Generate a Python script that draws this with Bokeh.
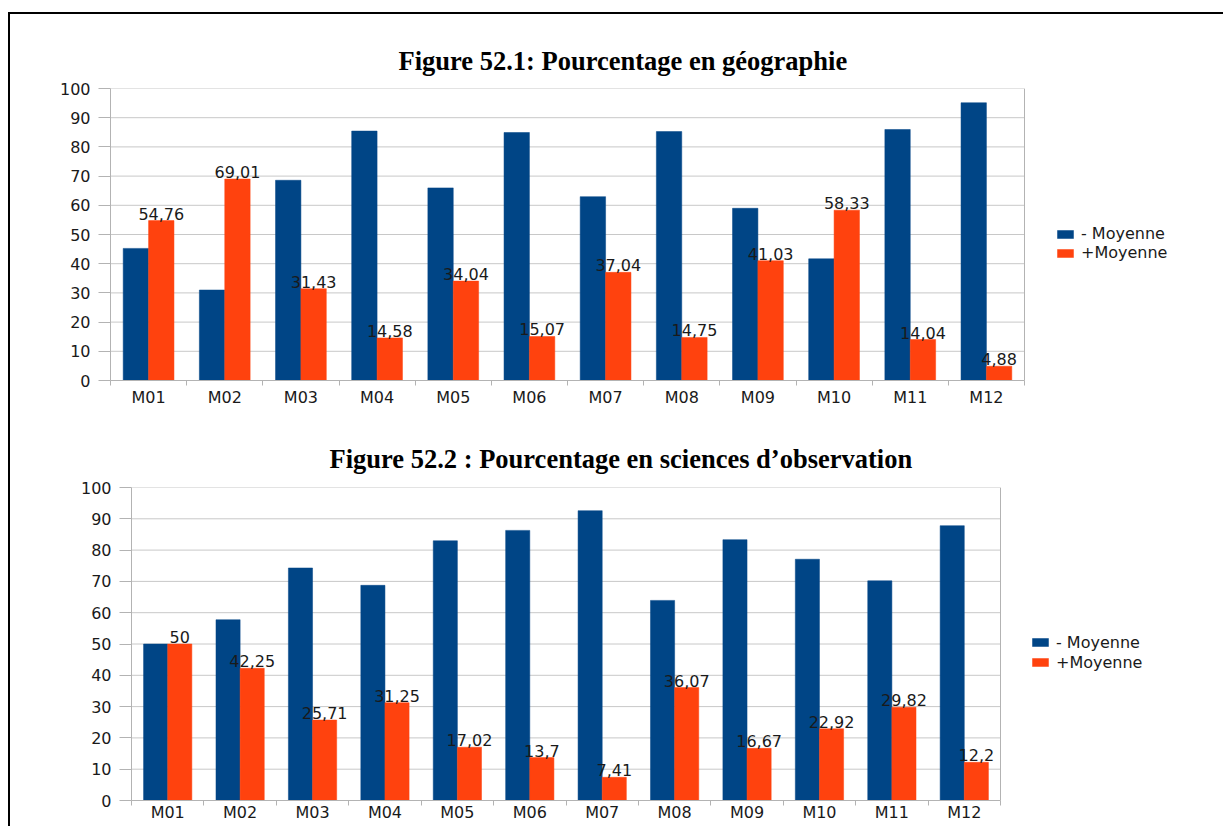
import numpy as np
from bokeh.plotting import figure
from bokeh.models import FixedTicker, Range1d, Legend, LegendItem, ColumnDataSource, Span
from bokeh.embed import file_html
from bokeh.resources import INLINE
from bokeh.core.properties import value

categories = ["M01", "M02", "M03", "M04", "M05", "M06", "M07", "M08", "M09", "M10", "M11", "M12"]
series_names = ["- Moyenne", "+Moyenne"]
geo_minus = [45.24, 30.99, 68.57, 85.42, 65.96, 84.93, 62.96, 85.25, 58.97, 41.67, 85.96, 95.12]
geo_plus = [54.76, 69.01, 31.43, 14.58, 34.04, 15.07, 37.04, 14.75, 41.03, 58.33, 14.04, 4.88]
sci_minus = [50, 57.75, 74.29, 68.75, 82.98, 86.3, 92.59, 63.93, 83.33, 77.08, 70.18, 87.8]
sci_plus = [50, 42.25, 25.71, 31.25, 17.02, 13.7, 7.41, 36.07, 16.67, 22.92, 29.82, 12.2]
yticks = list(range(0, 101, 10))
title1 = "Figure 52.1: Pourcentage en géographie"
title2 = "Figure 52.2 : Pourcentage en sciences d\u2019observation"

BLUE = "#004586"
ORANGE = "#ff420e"
GRID = "#c8c8c8"
AXIS = "#b3b3b3"
FONT = "DejaVu Sans"


def fmt(v):
    return f"{v:g}".replace(".", ",")


def make_chart(title, minus, plus, width, height, mb_left, chart_w, mb_top, mb_bottom,
               title_offset, title_standoff, leg_loc, leg_row, x_standoff):
    n = len(categories)
    frame_w = width - mb_left
    centers = np.arange(n) + 0.5
    src = ColumnDataSource(dict(
        x_minus=centers - 1 / 6, x_plus=centers + 1 / 6,
        minus=minus, plus=plus, lbl=[fmt(v) for v in plus]))
    p = figure(width=width, height=height, x_range=Range1d(0, n * frame_w / chart_w),
               y_range=Range1d(0, 100),
               output_backend="svg", toolbar_location=None, title=title,
               min_border_left=mb_left, min_border_right=0,
               min_border_top=mb_top, min_border_bottom=mb_bottom)
    p.title.align = "left"
    p.title.offset = title_offset
    p.title.standoff = title_standoff
    p.title.text_font = "Liberation Serif"
    p.title.text_font_size = "26.5px"
    p.title.text_font_style = "bold"
    p.title.text_color = "#000000"

    p.xgrid.grid_line_color = None
    p.ygrid.grid_line_color = None
    p.outline_line_color = None
    # horizontal grid lines limited to the category area
    p.segment(x0=[0] * len(yticks), x1=[n] * len(yticks), y0=yticks, y1=yticks,
              line_color=GRID, line_width=1, level="underlay")
    p.add_layout(Span(location=n, dimension="height", line_color=AXIS, line_width=1))

    r1 = p.vbar(x="x_minus", top="minus", width=1 / 3, source=src,
                fill_color=BLUE, line_color=BLUE, line_width=0.5)
    r2 = p.vbar(x="x_plus", top="plus", width=1 / 3, source=src,
                fill_color=ORANGE, line_color=ORANGE, line_width=0.5)
    p.text(x="x_plus", y="plus", text="lbl", source=src, text_align="center",
           text_baseline="alphabetic", y_offset=-7, text_font=value(FONT),
           text_font_size="16px", text_color="#1a1a1a")

    # axes
    p.xaxis.bounds = (0, n)
    p.xaxis.ticker = FixedTicker(ticks=list(centers), minor_ticks=list(np.arange(n + 1)))
    p.xaxis.major_label_overrides = {float(c): lab for c, lab in zip(centers, categories)}
    p.xaxis.major_tick_out = 0
    p.xaxis.major_tick_in = 0
    p.xaxis.minor_tick_out = 5
    p.xaxis.minor_tick_in = 0
    p.xaxis.minor_tick_line_color = AXIS
    p.xaxis.axis_line_color = AXIS
    p.xaxis.major_label_standoff = x_standoff
    p.xaxis.major_label_text_font = FONT
    p.xaxis.major_label_text_font_size = "16px"
    p.xaxis.major_label_text_color = "#1a1a1a"

    p.yaxis.ticker = FixedTicker(ticks=yticks)
    p.yaxis.major_tick_out = 12
    p.yaxis.major_tick_in = 0
    p.yaxis.minor_tick_line_color = None
    p.yaxis.major_tick_line_color = AXIS
    p.yaxis.axis_line_color = AXIS
    p.yaxis.major_label_standoff = 8
    p.yaxis.major_label_text_font = FONT
    p.yaxis.major_label_text_font_size = "16px"
    p.yaxis.major_label_text_color = "#1a1a1a"

    legend = Legend(items=[LegendItem(label=series_names[0], renderers=[r1]),
                           LegendItem(label=series_names[1], renderers=[r2])],
                    location=leg_loc)
    legend.background_fill_alpha = 0
    legend.border_line_color = None
    legend.padding = 0
    legend.margin = 0
    legend.spacing = 0
    legend.glyph_width = 20
    legend.glyph_height = 10
    legend.label_height = leg_row
    legend.label_standoff = 6
    legend.label_text_font = FONT
    legend.label_text_font_size = "16px"
    legend.label_text_color = "#1a1a1a"
    p.add_layout(legend)
    return p


W = 1215
p1 = make_chart(title1, geo_minus, geo_plus, W, 406, 100, 914, 74, 40,
                288, 25, (945, 118), 19, 2)
p2 = make_chart(title2, sci_minus, sci_plus, W, 408, 121, 869, 69, 26,
                198, 28, (899, 128), 20, -3)

p1.styles = {"margin-left": "8px", "margin-top": "12px",
             "border-left": "2px solid black", "border-top": "2px solid black"}
p2.styles = {"margin-left": "8px", "border-left": "2px solid black"}

open("out.html", "w").write(file_html([p1, p2], INLINE))
